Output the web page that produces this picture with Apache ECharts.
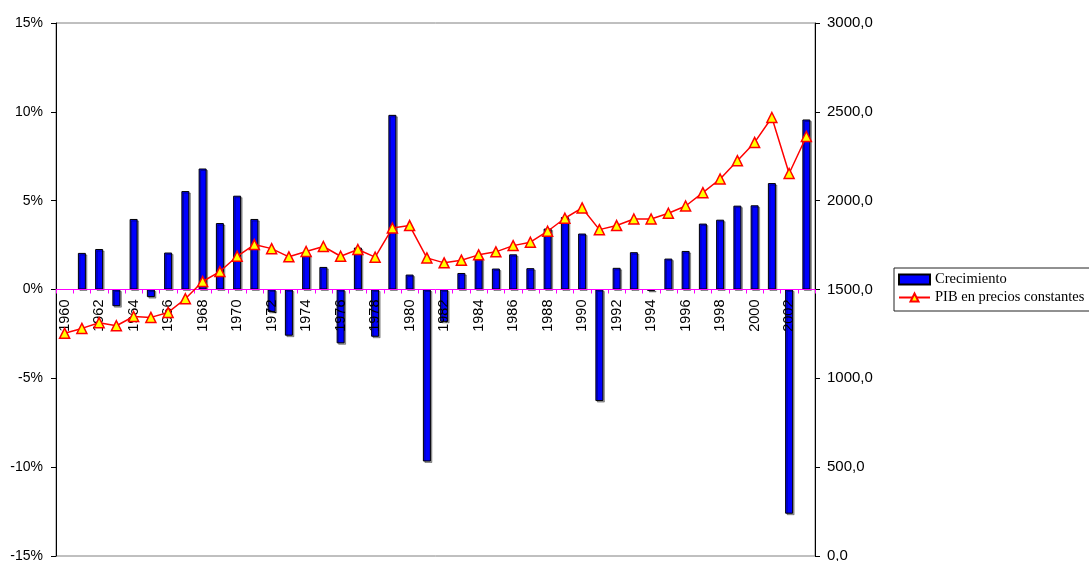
<!DOCTYPE html>
<html>
<head>
<meta charset="utf-8">
<script src="https://cdn.jsdelivr.net/npm/echarts@6/dist/echarts.min.js"></script>
<style>
html,body{margin:0;padding:0;background:#fff;}
#chart{width:1089px;height:561px;}
</style>
</head>
<body>
<div id="chart"></div>
<script>
var years = ['1960','1961','1962','1963','1964','1965','1966','1967','1968','1969','1970','1971','1972','1973','1974','1975','1976','1977','1978','1979','1980','1981','1982','1983','1984','1985','1986','1987','1988','1989','1990','1991','1992','1993','1994','1995','1996','1997','1998','1999','2000','2001','2002','2003'];
var crecimiento = [null,2.06,2.28,-0.94,3.97,-0.43,2.08,5.54,6.81,3.74,5.28,3.97,-1.26,-2.6,2.02,1.27,-3.03,2.36,-2.66,9.83,0.84,-9.68,-1.82,0.93,1.74,1.18,1.98,1.2,3.43,4.08,3.15,-6.28,1.22,2.1,-0.08,1.74,2.17,3.71,3.93,4.72,4.74,5.99,-12.62,9.57];
var pib = [1254,1281,1313,1296,1348,1343,1371,1448,1545,1601,1687,1753,1730,1684,1714,1742,1687,1725,1682,1846,1860,1678,1650,1665,1695,1712,1747,1766,1828,1901,1959,1837,1860,1897,1897,1929,1970,2045,2122,2225,2328,2468,2153,2361];
var leftTicks = {min:-15, max:15, interval:5};
var rightTicks = {min:0, max:3000, interval:500};
var seriesNames = ['Crecimiento','PIB en precios constantes'];

var gridTop = 23, gridBottom = 5, H = 561;
var plotH = H - gridTop - gridBottom;
// place the category axis on the 0% line of the left axis
var zeroOffset = -plotH * (0 - leftTicks.min) / (leftTicks.max - leftTicks.min);

var chart = echarts.init(document.getElementById('chart'), null, {renderer:'canvas'});
chart.setOption({
  animation:false,
  grid:{left:56, right:274, top:gridTop, bottom:gridBottom, containLabel:false, outerBoundsMode:'none',
        show:true, borderColor:'#808080', borderWidth:1, backgroundColor:'transparent'},
  legend:{
    orient:'vertical', left:894, top:268,
    backgroundColor:'#fff', borderColor:'#222', borderWidth:1,
    padding:[4,30,6,4], itemGap:3, itemWidth:31, itemHeight:10,
    textStyle:{fontFamily:'"Liberation Serif","Times New Roman",serif', fontSize:14.5, color:'#000', lineHeight:15},
    data:[{name:seriesNames[0], icon:'rect'}, {name:seriesNames[1]}]
  },
  xAxis:{
    type:'category', data:years, boundaryGap:true, position:'bottom', offset:zeroOffset, zlevel:1, z:10,
    axisLine:{onZero:false, lineStyle:{color:'#ff00ff', width:1}},
    axisTick:{show:true, inside:false, length:4, interval:0, lineStyle:{color:'#ff00ff'}},
    axisLabel:{interval:1, rotate:90, margin:10, color:'#000', fontFamily:'"Liberation Sans",Arial,sans-serif', fontSize:14.5},
    splitLine:{show:false}
  },
  yAxis:[
    {type:'value', min:leftTicks.min, max:leftTicks.max, interval:leftTicks.interval, position:'left',
     axisLine:{show:true, lineStyle:{color:'#000'}},
     axisTick:{show:true, length:5, lineStyle:{color:'#000'}},
     axisLabel:{formatter:function(v){return v+'%';}, color:'#000', margin:13, fontFamily:'"Liberation Sans",Arial,sans-serif', fontSize:14},
     splitLine:{show:false}},
    {type:'value', min:rightTicks.min, max:rightTicks.max, interval:rightTicks.interval, position:'right',
     axisLine:{show:true, lineStyle:{color:'#000'}},
     axisTick:{show:true, length:5, lineStyle:{color:'#000'}},
     axisLabel:{formatter:function(v){return v.toFixed(1).replace('.',',');}, color:'#000', margin:12, fontFamily:'"Liberation Sans",Arial,sans-serif', fontSize:15},
     splitLine:{show:false}}
  ],
  series:[
    {name:seriesNames[0], type:'bar', yAxisIndex:0, data:crecimiento, barWidth:8,
     itemStyle:{color:'#0000ff', borderColor:'#000', borderWidth:1, shadowColor:'rgba(0,0,0,0.35)', shadowBlur:0, shadowOffsetX:1.5, shadowOffsetY:1.5},
     z:2},
    {name:seriesNames[1], type:'line', yAxisIndex:1, data:pib,
     symbol:'triangle', symbolSize:10, zlevel:2,
     lineStyle:{color:'#ff0000', width:1.5},
     itemStyle:{color:'#ffff00', borderColor:'#ff0000', borderWidth:1.5},
     z:3}
  ]
});
</script>
</body>
</html>
